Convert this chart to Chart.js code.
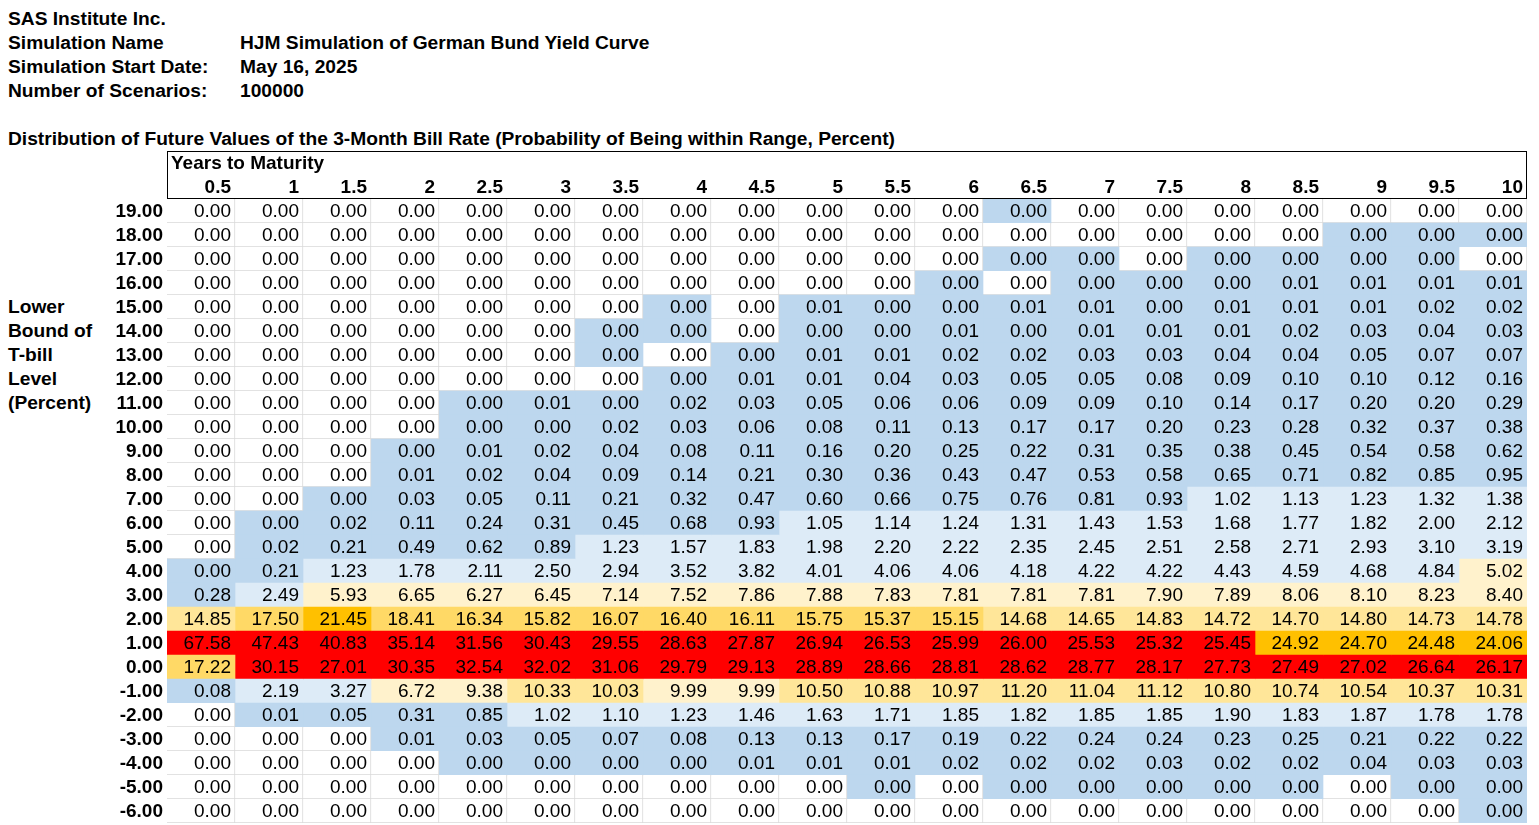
<!DOCTYPE html>
<html><head><meta charset="utf-8">
<script src="https://cdn.jsdelivr.net/npm/chart.js@4.4.1/dist/chart.umd.min.js"></script>
<style>
body{margin:0;background:#fff;font-family:"Liberation Sans",Arial,sans-serif;}
#wrap{position:relative;width:1539px;height:825px;}
canvas{position:absolute;left:0;top:0;}
.t{position:absolute;font-weight:bold;font-size:19.2px;color:#000;white-space:nowrap;line-height:24px;}
</style></head><body>
<div id="wrap">
<div class="t" style="left:8px;top:7px">SAS Institute Inc.</div>
<div class="t" style="left:8px;top:31px">Simulation Name</div>
<div class="t" style="left:240px;top:31px">HJM Simulation of German Bund Yield Curve</div>
<div class="t" style="left:8px;top:55px">Simulation Start Date:</div>
<div class="t" style="left:240px;top:55px">May 16, 2025</div>
<div class="t" style="left:8px;top:79px">Number of Scenarios:</div>
<div class="t" style="left:240px;top:79px">100000</div>
<div class="t" style="left:8px;top:127px">Distribution of Future Values of the 3-Month Bill Rate (Probability of Being within Range, Percent)</div>
<div class="t" style="left:8px;top:295px">Lower<br>Bound of<br>T-bill<br>Level<br>(Percent)</div>
<canvas id="c" width="1539" height="825"></canvas>
</div>
<script>
const headerTitle = "Years to Maturity";
const maturities = ["0.5","1","1.5","2","2.5","3","3.5","4","4.5","5","5.5","6","6.5","7","7.5","8","8.5","9","9.5","10"];
const levels = ["19.00","18.00","17.00","16.00","15.00","14.00","13.00","12.00","11.00","10.00","9.00","8.00","7.00","6.00","5.00","4.00","3.00","2.00","1.00","0.00","-1.00","-2.00","-3.00","-4.00","-5.00","-6.00"];
// values in percent; 0.001 = positive but rounds to 0.00
const r19 = [0,0,0,0,0,0,0,0,0,0,0,0,0.001,0,0,0,0,0,0,0];
const r18 = [0,0,0,0,0,0,0,0,0,0,0,0,0,0,0,0,0,0.001,0.001,0.001];
const r17 = [0,0,0,0,0,0,0,0,0,0,0,0,0.001,0.001,0,0.001,0.001,0.001,0.001,0];
const r16 = [0,0,0,0,0,0,0,0,0,0,0,0.001,0,0.001,0.001,0.001,0.01,0.01,0.01,0.01];
const r15 = [0,0,0,0,0,0,0,0.001,0,0.01,0.001,0.001,0.01,0.01,0.001,0.01,0.01,0.01,0.02,0.02];
const r14 = [0,0,0,0,0,0,0.001,0.001,0,0.001,0.001,0.01,0.001,0.01,0.01,0.01,0.02,0.03,0.04,0.03];
const r13 = [0,0,0,0,0,0,0.001,0,0.001,0.01,0.01,0.02,0.02,0.03,0.03,0.04,0.04,0.05,0.07,0.07];
const r12 = [0,0,0,0,0,0,0,0.001,0.01,0.01,0.04,0.03,0.05,0.05,0.08,0.09,0.10,0.10,0.12,0.16];
const r11 = [0,0,0,0,0.001,0.01,0.001,0.02,0.03,0.05,0.06,0.06,0.09,0.09,0.10,0.14,0.17,0.20,0.20,0.29];
const r10 = [0,0,0,0,0.001,0.001,0.02,0.03,0.06,0.08,0.11,0.13,0.17,0.17,0.20,0.23,0.28,0.32,0.37,0.38];
const r9 = [0,0,0,0.001,0.01,0.02,0.04,0.08,0.11,0.16,0.20,0.25,0.22,0.31,0.35,0.38,0.45,0.54,0.58,0.62];
const r8 = [0,0,0,0.01,0.02,0.04,0.09,0.14,0.21,0.30,0.36,0.43,0.47,0.53,0.58,0.65,0.71,0.82,0.85,0.95];
const r7 = [0,0,0.001,0.03,0.05,0.11,0.21,0.32,0.47,0.60,0.66,0.75,0.76,0.81,0.93,1.02,1.13,1.23,1.32,1.38];
const r6 = [0,0.001,0.02,0.11,0.24,0.31,0.45,0.68,0.93,1.05,1.14,1.24,1.31,1.43,1.53,1.68,1.77,1.82,2.00,2.12];
const r5 = [0,0.02,0.21,0.49,0.62,0.89,1.23,1.57,1.83,1.98,2.20,2.22,2.35,2.45,2.51,2.58,2.71,2.93,3.10,3.19];
const r4 = [0.001,0.21,1.23,1.78,2.11,2.50,2.94,3.52,3.82,4.01,4.06,4.06,4.18,4.22,4.22,4.43,4.59,4.68,4.84,5.02];
const r3 = [0.28,2.49,5.93,6.65,6.27,6.45,7.14,7.52,7.86,7.88,7.83,7.81,7.81,7.81,7.90,7.89,8.06,8.10,8.23,8.40];
const r2 = [14.85,17.50,21.45,18.41,16.34,15.82,16.07,16.40,16.11,15.75,15.37,15.15,14.68,14.65,14.83,14.72,14.70,14.80,14.73,14.78];
const r1 = [67.58,47.43,40.83,35.14,31.56,30.43,29.55,28.63,27.87,26.94,26.53,25.99,26.00,25.53,25.32,25.45,24.92,24.70,24.48,24.06];
const r0 = [17.22,30.15,27.01,30.35,32.54,32.02,31.06,29.79,29.13,28.89,28.66,28.81,28.62,28.77,28.17,27.73,27.49,27.02,26.64,26.17];
const rm1 = [0.08,2.19,3.27,6.72,9.38,10.33,10.03,9.99,9.99,10.50,10.88,10.97,11.20,11.04,11.12,10.80,10.74,10.54,10.37,10.31];
const rm2 = [0,0.01,0.05,0.31,0.85,1.02,1.10,1.23,1.46,1.63,1.71,1.85,1.82,1.85,1.85,1.90,1.83,1.87,1.78,1.78];
const rm3 = [0,0,0,0.01,0.03,0.05,0.07,0.08,0.13,0.13,0.17,0.19,0.22,0.24,0.24,0.23,0.25,0.21,0.22,0.22];
const rm4 = [0,0,0,0,0.001,0.001,0.001,0.001,0.01,0.01,0.01,0.02,0.02,0.02,0.03,0.02,0.02,0.04,0.03,0.03];
const rm5 = [0,0,0,0,0,0,0,0,0,0,0.001,0,0.001,0.001,0.001,0.001,0.001,0,0.001,0.001];
const rm6 = [0,0,0,0,0,0,0,0,0,0,0,0,0,0,0,0,0,0,0,0.001];
const rows = [r19,r18,r17,r16,r15,r14,r13,r12,r11,r10,r9,r8,r7,r6,r5,r4,r3,r2,r1,r0,rm1,rm2,rm3,rm4,rm5,rm6];

function colorFor(v){
  if(v<=0) return '#FFFFFF';
  if(v<1) return '#BDD7EE';
  if(v<5) return '#DDEBF7';
  if(v<10) return '#FFF2CC';
  if(v<15) return '#FFE699';
  if(v<20) return '#FFD966';
  if(v<25) return '#FFC000';
  return '#FF0000';
}
const FONT = '"Liberation Sans", Arial, sans-serif';

const datasets = maturities.map((m,j)=>({
  label:m,
  data: rows.map(()=>[j,j+1]),
  backgroundColor: rows.map(r=>colorFor(r[j])),
  borderColor: rows.map(r=>r[j]<=0?'#D9D9D9':'rgba(0,0,0,0)'),
  borderWidth: rows.map(r=>r[j]<=0?{top:0,left:0,right:1,bottom:1}:0),
  borderSkipped:false,
  grouped:false,
  barPercentage:1, categoryPercentage:1
}));

const tablePlugin = {
  id:'tbl',
  afterDatasetsDraw(chart){
    const ctx = chart.ctx, xs = chart.scales.x, ys = chart.scales.y, ca = chart.chartArea;
    ctx.save();
    ctx.fillStyle='#000';
    ctx.textBaseline='middle';
    ctx.textAlign='right';
    ctx.font = '19px '+FONT;
    chart.data.datasets.forEach((ds,j)=>{
      const meta = chart.getDatasetMeta(j);
      meta.data.forEach((el,i)=>{
        ctx.fillText(rows[i][j].toFixed(2), el.x-4, el.y+1);
      });
    });
    ctx.font = 'bold 19px '+FONT;
    levels.forEach((l,i)=>{
      ctx.fillText(l, ca.left-4, ys.getPixelForValue(i)+1);
    });
    const rh = ys.getPixelForValue(1)-ys.getPixelForValue(0);
    const hy = ca.top - rh/2;
    maturities.forEach((m,j)=>{
      ctx.fillText(m, xs.getPixelForValue(j+1)-4, hy+1);
    });
    ctx.textAlign='left';
    ctx.fillText(headerTitle, ca.left+4, ca.top - rh*1.5+1);
    ctx.strokeStyle='#000'; ctx.lineWidth=1;
    ctx.strokeRect(ca.left+0.5, ca.top - rh*2+0.5, ca.right-ca.left-1, rh*2-1);
    ctx.restore();
  }
};

new Chart(document.getElementById('c'),{
  type:'bar',
  data:{labels:levels, datasets},
  options:{
    indexAxis:'y', responsive:false, animation:false,
    layout:{padding:{left:167,right:12,top:199,bottom:2}},
    plugins:{legend:{display:false},tooltip:{enabled:false}},
    scales:{
      x:{type:'linear',min:0,max:20,display:false},
      y:{type:'category',display:false,grid:{display:false}}
    }
  },
  plugins:[tablePlugin]
});
</script>
</body></html>
